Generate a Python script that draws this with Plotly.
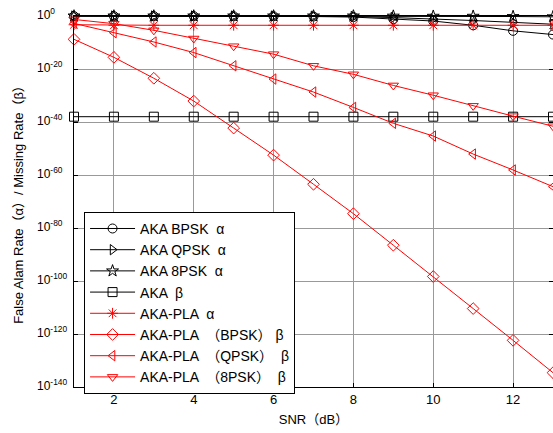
import plotly.graph_objects as go

snr = [1, 2, 3, 4, 5, 6, 7, 8, 9, 10, 11, 12, 13]

# log10 of the rates
aka_bpsk_alpha = [-0.05, -0.05, -0.05, -0.05, -0.1, -0.1, -0.2, -0.4, -1.2, -1.9, -3.5, -5.6, -7.0]
aka_qpsk_alpha = [-0.02, -0.02, -0.02, -0.02, -0.05, -0.05, -0.1, -0.2, -0.6, -1.1, -1.7, -2.4, -3.1]
aka_8psk_alpha = [0.0, 0.0, 0.0, 0.0, 0.0, 0.0, 0.0, 0.0, -0.05, -0.1, -0.1, -0.2, -0.3]
aka_beta = [-38.0] * 13
pla_alpha = [-3.3, -3.5, -3.5, -3.5, -3.5, -3.5, -3.5, -3.5, -3.5, -3.5, -3.5, -3.5, -3.5]
pla_bpsk_beta = [-8.8, -15.6, -23.5, -32.1, -42.3, -52.5, -63.5, -74.6, -86.5, -98.3, -110.4, -122.4, -134.6]
pla_qpsk_beta = [-2.8, -6.3, -9.8, -13.8, -18.8, -23.8, -28.7, -34.5, -40.5, -45.3, -52.1, -58.1, -64.4]
pla_8psk_beta = [-1.3, -2.9, -5.4, -8.5, -11.4, -14.4, -18.8, -22.0, -26.2, -29.9, -33.9, -37.8, -41.6]

x_ticks = [2, 4, 6, 8, 10, 12]
y_tick_exps = [0, -20, -40, -60, -80, -100, -120, -140]
y_tick_text = ["10<sup>%d</sup>" % e for e in y_tick_exps]

series = [
    ("AKA BPSK  α", aka_bpsk_alpha, "black", "circle-open"),
    ("AKA QPSK  α", aka_qpsk_alpha, "black", "triangle-right-open"),
    ("AKA 8PSK  α", aka_8psk_alpha, "black", "star-open"),
    ("AKA  β", aka_beta, "black", "square-open"),
    ("AKA-PLA  α", pla_alpha, "red", "asterisk-open"),
    ("AKA-PLA  （BPSK） β", pla_bpsk_beta, "red", "diamond-open"),
    ("AKA-PLA  （QPSK）  β", pla_qpsk_beta, "red", "triangle-left-open"),
    ("AKA-PLA  （8PSK）  β", pla_8psk_beta, "red", "triangle-down-open"),
]

FONT = "Arial, 'Liberation Sans', 'Noto Sans CJK SC', sans-serif"

fig = go.Figure()
for name, vals, col, sym in series:
    fig.add_trace(go.Scatter(
        x=snr, y=[10.0 ** v for v in vals], name=name, mode="lines+markers",
        line=dict(color=col, width=1),
        marker=dict(symbol=sym, size=9, color=col, line=dict(color=col, width=1)),
        cliponaxis=False,
    ))

# y tick labels, left-aligned like the reference
for e, txt in zip(y_tick_exps, y_tick_text):
    fig.add_annotation(
        xref="paper", yref="y", x=-0.0814, y=e, xanchor="left", yanchor="middle",
        text=txt, showarrow=False, font=dict(size=12, family=FONT), yshift=2,
    )

fig.update_layout(
    width=553, height=433,
    margin=dict(l=74, r=0, t=16, b=46),
    paper_bgcolor="white", plot_bgcolor="white",
    font=dict(family=FONT, color="black", size=13),
    showlegend=True,
    legend=dict(
        x=0.021, y=0.472, xanchor="left", yanchor="top",
        bgcolor="white", bordercolor="black", borderwidth=1,
        font=dict(size=14, family=FONT), itemwidth=45,
        tracegroupgap=0,
    ),
)
fig.update_xaxes(
    range=[1, 13], tickvals=x_ticks, ticks="inside", ticklen=4,
    tickcolor="black", showline=True, linecolor="black", linewidth=1,
    mirror="ticks", showgrid=True, gridcolor="#999999", gridwidth=1,
    zeroline=False, tickfont=dict(size=13),
    title=dict(text="SNR（dB）", font=dict(size=13), standoff=9),
)
fig.update_yaxes(
    type="log", range=[-140, 0],
    tickvals=[10.0 ** e for e in y_tick_exps], showticklabels=False,
    ticks="inside", ticklen=4, tickcolor="black",
    showline=True, linecolor="black", linewidth=1, mirror="ticks",
    showgrid=True, gridcolor="#999999", gridwidth=1, zeroline=False,
    title=dict(text="False Alam Rate（α）/ Missing Rate（β）", font=dict(size=13), standoff=46),
)

fig.write_html("out.html")
